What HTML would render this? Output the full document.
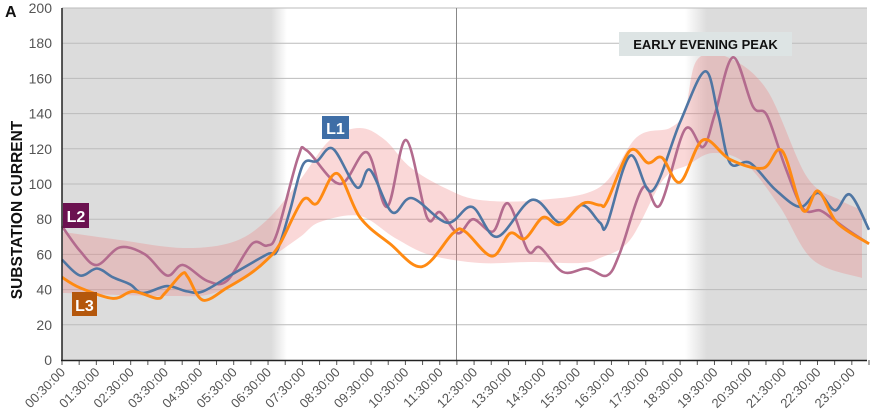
<!DOCTYPE html>
<html><head><meta charset="utf-8"><style>
body{margin:0;background:#fff;}
svg{display:block;font-family:"Liberation Sans",sans-serif;}
</style></head><body>
<svg id="s" width="870" height="419" xmlns="http://www.w3.org/2000/svg">
<defs>
<linearGradient id="gl" x1="0" x2="1"><stop offset="0" stop-color="#dcdcdc"/><stop offset="0.93" stop-color="#dcdcdc"/><stop offset="1" stop-color="#dcdcdc" stop-opacity="0"/></linearGradient>
<linearGradient id="gr" x1="0" x2="1"><stop offset="0" stop-color="#dcdcdc" stop-opacity="0"/><stop offset="0.12" stop-color="#dcdcdc"/><stop offset="1" stop-color="#dcdcdc"/></linearGradient>
</defs>
<rect x="62" y="8" width="225" height="352" fill="url(#gl)"/>
<rect x="685" y="8" width="182" height="352" fill="url(#gr)"/>
<g id="grid" stroke="#bbb" stroke-width="1"></g>
<line x1="456.5" y1="8" x2="456.5" y2="360" stroke="#888" stroke-width="1"/>
<path id="band" fill="rgba(238,125,125,0.3)"/>
<path id="l2" fill="none" stroke="#b36b8e" stroke-width="2.6"/>
<path id="l1" fill="none" stroke="#4f76a3" stroke-width="2.6"/>
<path id="l3" fill="none" stroke="#ff8a12" stroke-width="2.9"/>
<line x1="62" y1="8" x2="62" y2="361" stroke="#222" stroke-width="1.5"/>
<line x1="61" y1="360.5" x2="867" y2="360.5" stroke="#222" stroke-width="1.5"/>
<g id="yl" font-size="14" fill="#555" text-anchor="end"></g>
<g id="xl" font-size="13" fill="#555"></g>
<text x="5" y="17" font-size="16" font-weight="bold" fill="#111">A</text>
<text transform="translate(22,210) rotate(-90)" text-anchor="middle" font-size="15.5" font-weight="bold" fill="#111">SUBSTATION CURRENT</text>
<rect x="322" y="116" width="27" height="23" fill="#3f6ea6"/>
<text x="335.5" y="134" text-anchor="middle" font-size="16" font-weight="bold" fill="#fff">L1</text>
<rect x="63" y="203" width="26" height="25" fill="#6b1250"/>
<text x="76" y="222" text-anchor="middle" font-size="16" font-weight="bold" fill="#fff">L2</text>
<rect x="72" y="292" width="25" height="24" fill="#b4570c"/>
<text x="84.5" y="311" text-anchor="middle" font-size="16" font-weight="bold" fill="#fff">L3</text>
<rect x="619" y="32" width="173" height="24" fill="#dde4e4"/>
<text x="705.5" y="49" text-anchor="middle" font-size="13" font-weight="bold" fill="#111">EARLY EVENING PEAK</text>
</svg>
<script>
var NS="http://www.w3.org/2000/svg";
function Y(v){return 360-1.76*v;}
function el(t,a,p,txt){var e=document.createElementNS(NS,t);for(var k in a)e.setAttribute(k,a[k]);if(txt)e.textContent=txt;p.appendChild(e);return e;}
var g=document.getElementById('grid'),yl=document.getElementById('yl'),xl=document.getElementById('xl');
for(var v=0;v<=200;v+=20){var y=Y(v);if(v>0)el('line',{x1:62,x2:867,y1:y,y2:y},g);el('text',{x:52,y:y+5},yl,String(v));}
for(var i=0;i<=47;i++){var x=62+i*17.17;el('line',{x1:x,x2:x,y1:360,y2:365,stroke:'#555'},g);
 if(i%2==0){var h=i/2;var s=(h<10?'0':'')+h+':30:00';el('text',{transform:'translate('+(x+4)+',373) rotate(-45)','text-anchor':'end'},xl,s);}}
function path(p,move){var d=move?'M'+p[0][0]+','+p[0][1]:'L'+p[0][0]+','+p[0][1];
 for(var i=0;i<p.length-1;i++){var p0=p[i-1]||p[i],p1=p[i],p2=p[i+1],p3=p[i+2]||p2;
  d+=' C'+(p1[0]+(p2[0]-p0[0])/6).toFixed(1)+','+(p1[1]+(p2[1]-p0[1])/6).toFixed(1)+' '+(p2[0]-(p3[0]-p1[0])/6).toFixed(1)+','+(p2[1]-(p3[1]-p1[1])/6).toFixed(1)+' '+p2[0]+','+p2[1];}
 return d;}
function V(a){return a.map(function(q){return [q[0],+Y(q[1]).toFixed(1)];});}
var L1=V([[62,57],[80,48],[97,52],[113,47],[130,43],[143,38],[167,42],[187,39],[203,39],[233,49],[267,60],[277,62],[290,85],[303,111],[317,113],[333,120],[357,98],[370,108],[392,84],[412,92],[447,78],[472,87],[497,70],[532,91],[560,78],[582,88],[600,78],[607,77],[630,116],[652,96],[680,135],[705,164],[718,140],[730,112],[750,112],[775,97],[800,87],[818,95],[835,85],[850,94],[869,74]]);
var L2=V([[62,76],[80,62],[97,54],[120,64],[145,60],[167,48],[183,54],[207,45],[227,45],[252,66],[267,65],[277,72],[298,115],[307,119],[340,100],[367,118],[387,87],[406,125],[427,81],[440,84],[458,72],[473,80],[493,73],[508,89],[528,62],[540,64],[563,50],[587,52],[607,48],[620,61],[643,98],[660,88],[685,131],[703,121],[715,140],[733,172],[753,144],[767,139],[785,110],[803,86],[820,85],[833,80],[850,73],[869,66]]);
var L3=V([[62,47],[80,41],[113,35],[133,39],[157,35],[165,38],[182,49],[188,47],[203,34],[227,41],[250,49],[267,57],[280,66],[303,91],[317,89],[337,106],[360,81],[390,66],[422,53],[453,72],[465,73],[492,59],[510,72],[525,69],[543,81],[560,77],[583,89],[600,88],[607,90],[630,119],[648,112],[662,115],[680,101],[703,125],[730,114],[763,109],[782,119],[803,85],[818,96],[837,78],[869,66]]);
var up=[[63,232],[120,240],[183,248],[233,242],[267,220],[300,180],[330,140],[360,128],[385,140],[410,167],[445,188],[480,200],[540,200],[600,187],[637,137],[670,128],[685,110],[697,60],[727,57],[767,90],[807,177],[840,200],[862,210]];
var lo=[[862,278],[813,260],[780,207],[745,163],[713,153],[688,165],[663,180],[630,240],[600,258],[580,263],[530,262],[480,263],[430,255],[395,238],[360,216],[320,222],[300,237],[267,260],[217,292],[167,296],[63,293]];
document.getElementById('band').setAttribute('d',path(up,true)+' '+path(lo,false)+' Z');
document.getElementById('l1').setAttribute('d',path(L1,true));
document.getElementById('l2').setAttribute('d',path(L2,true));
document.getElementById('l3').setAttribute('d',path(L3,true));
</script>
</body></html>
